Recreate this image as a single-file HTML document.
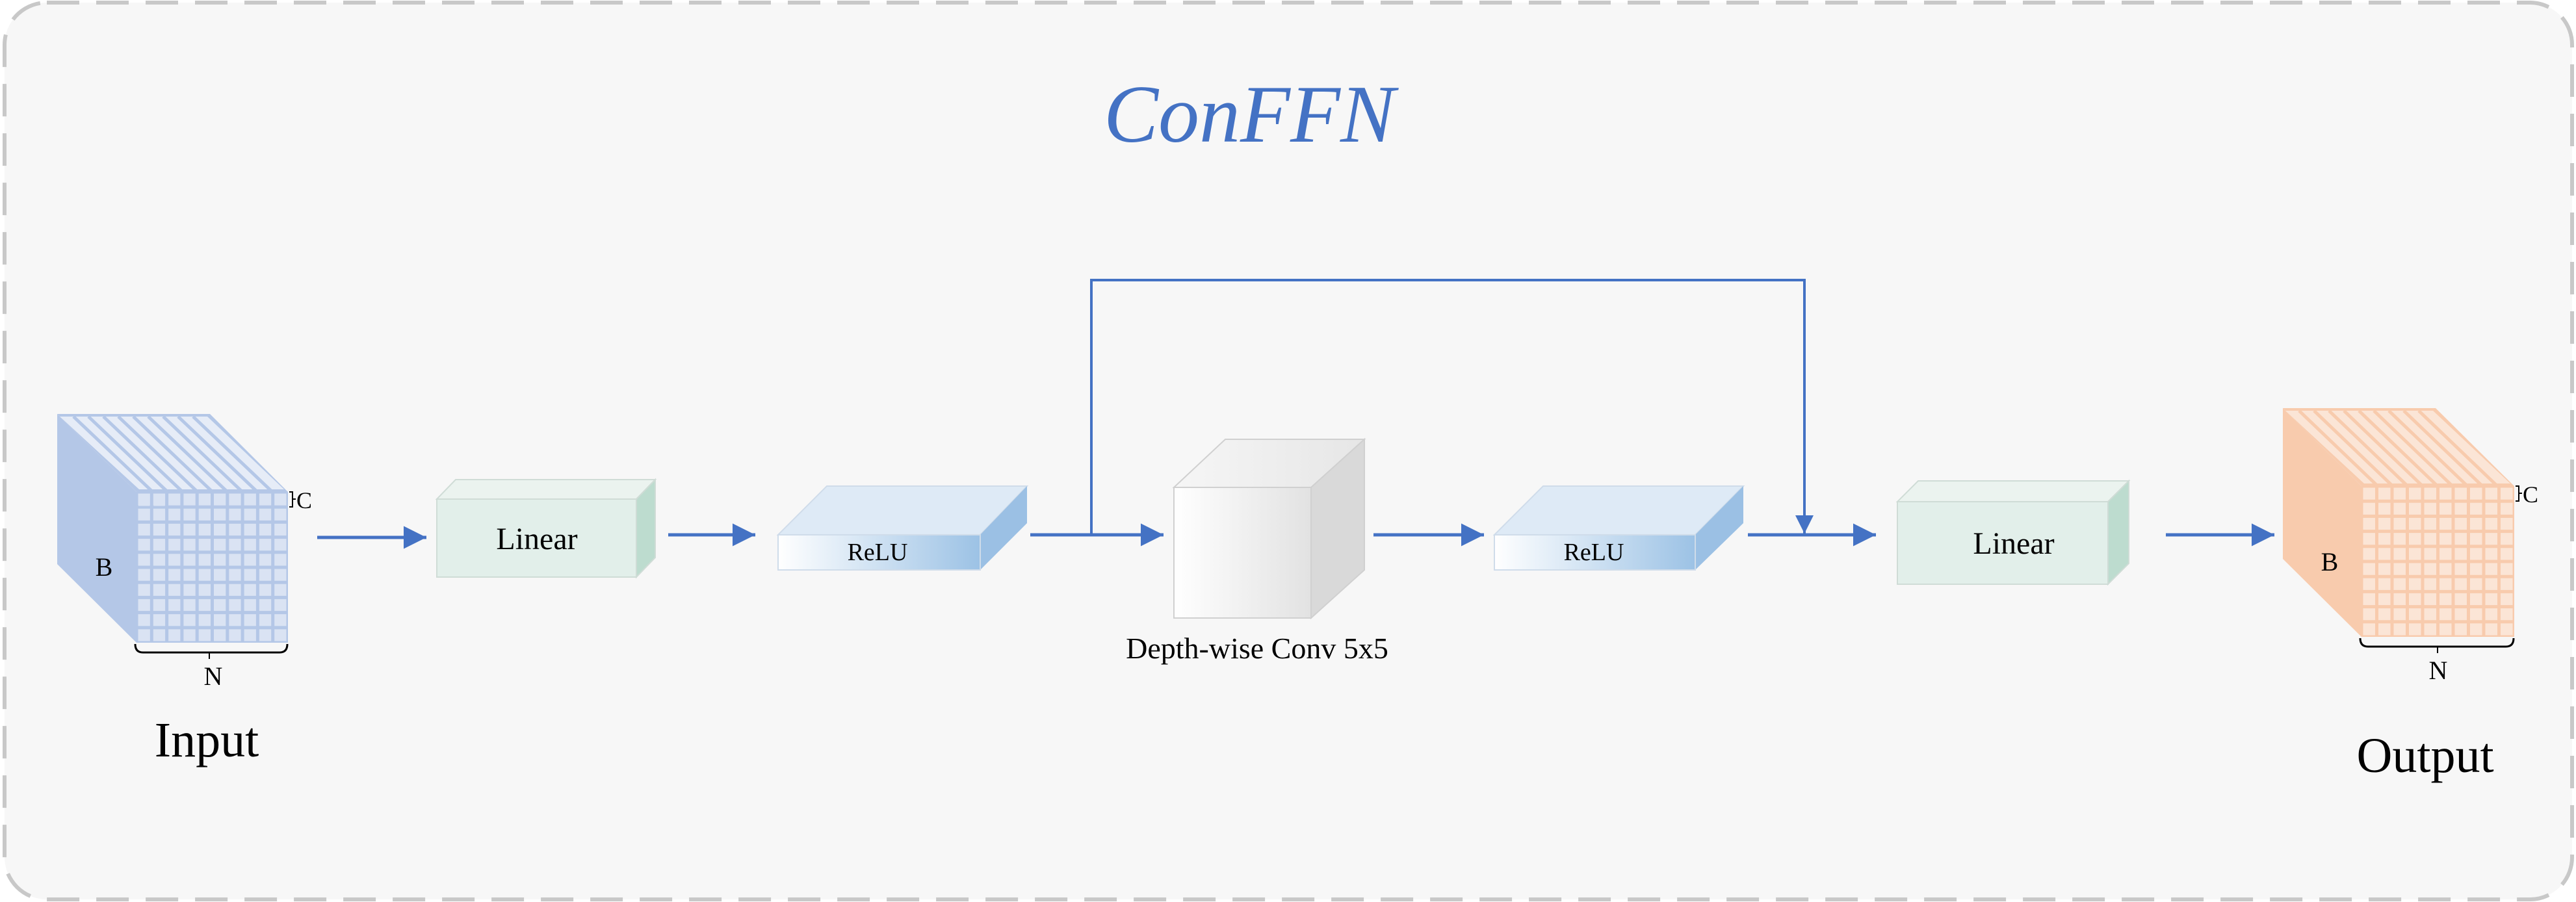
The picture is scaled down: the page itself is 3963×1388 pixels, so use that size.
<!DOCTYPE html>
<html><head><meta charset="utf-8"><style>
html,body{margin:0;padding:0;background:#fff;}
svg{display:block;}
text{font-family:"Liberation Serif",serif;fill:#000;}
</style></head><body>
<svg width="3963" height="1388" viewBox="0 0 3963 1388" xmlns="http://www.w3.org/2000/svg">
<defs>
<linearGradient id="relu" x1="0" x2="1" y1="0" y2="0"><stop offset="0" stop-color="#ffffff"/><stop offset="1" stop-color="#9cc2e5"/></linearGradient>
<linearGradient id="conv" x1="0" x2="1" y1="0" y2="0"><stop offset="0" stop-color="#ffffff"/><stop offset="1" stop-color="#e2e2e2"/></linearGradient>
<linearGradient id="convtop" x1="0" x2="1" y1="0" y2="0"><stop offset="0" stop-color="#f6f6f6"/><stop offset="1" stop-color="#e6e6e6"/></linearGradient>
<marker id="ah" viewBox="0 0 10 10" refX="10" refY="5" markerWidth="7" markerHeight="7" markerUnits="strokeWidth" orient="auto"><path d="M0,0 L10,5 L0,10 z" fill="#4472c4"/></marker>
</defs>
<rect x="0" y="0" width="3963" height="1388" fill="#ffffff"/>
<rect x="7" y="4" width="3950" height="1380" rx="65" ry="65" fill="#f7f7f7" stroke="#c8c8c8" stroke-width="6" stroke-dasharray="50 26"/>

<text x="1922" y="218" font-size="126" font-style="italic" text-anchor="middle" style="fill:#4472c4">ConFFN</text>

<!-- Input cube -->
<g>
<polygon points="88,637 210,757 210,989 88,868" fill="#b4c7e7"/>
<polygon points="88,637 323,637 443,757 210,757" fill="#b4c7e7"/>
<g id="topstripesI" stroke="#b4c7e7" stroke-width="3"></g>
<polygon points="92,641 319,641 437,753 214,753" fill="#e6ecf7"/>
<g stroke="#b4c7e7" stroke-width="5">
<line x1="113" y1="641" x2="235" y2="757"/><line x1="136" y1="641" x2="258" y2="757"/><line x1="159" y1="641" x2="281" y2="757"/><line x1="182" y1="641" x2="304" y2="757"/><line x1="205" y1="641" x2="327" y2="757"/><line x1="228" y1="641" x2="350" y2="757"/><line x1="251" y1="641" x2="373" y2="757"/><line x1="274" y1="641" x2="396" y2="757"/><line x1="297" y1="641" x2="419" y2="757"/>
</g>
<rect x="210" y="757" width="233" height="232" fill="#b4c7e7"/>
<g fill="#dae3f3">
<path d="M213,760 h17.5 v18.5 h-17.5z M236.3,760 h17.5 v18.5 h-17.5z"/>
</g>
<g fill="#dae3f3" id="gridI"></g>
</g>
<g id="cellsI">
<!-- rows generated inline -->
</g>

<!-- Output cube -->
<polygon points="3512,628 3633,748 3633,980 3512,860" fill="#f8cbad"/>
<polygon points="3512,628 3747,628 3868,748 3633,748" fill="#f8cbad"/>
<polygon points="3516,632 3743,632 3862,744 3637,744" fill="#fbe5d6"/>
<g stroke="#f8cbad" stroke-width="5">
<line x1="3537" y1="632" x2="3658" y2="748"/><line x1="3560" y1="632" x2="3681" y2="748"/><line x1="3583" y1="632" x2="3704" y2="748"/><line x1="3606" y1="632" x2="3727" y2="748"/><line x1="3629" y1="632" x2="3750" y2="748"/><line x1="3652" y1="632" x2="3773" y2="748"/><line x1="3675" y1="632" x2="3796" y2="748"/><line x1="3698" y1="632" x2="3819" y2="748"/><line x1="3721" y1="632" x2="3842" y2="748"/>
</g>
<rect x="3633" y="748" width="235" height="232" fill="#f8cbad"/>

<script>
(function(){
var ns="http://www.w3.org/2000/svg",svg=document.querySelector('svg');
function grid(x0,y0,w,h,fill){
 var cw=w/10,ch=h/10;
 for(var r=0;r<10;r++)for(var c=0;c<10;c++){
  var e=document.createElementNS(ns,'rect');
  e.setAttribute('x',x0+c*cw+2.5);e.setAttribute('y',y0+r*ch+2.5);
  e.setAttribute('width',cw-5);e.setAttribute('height',ch-5);e.setAttribute('fill',fill);
  svg.appendChild(e);
 }
}
grid(210,757,233,232,'#dae3f3');
grid(3633,748,235,232,'#fbe5d6');
})();
</script>

<!-- Input labels -->
<path d="M445,757 h5 v23 h-5" fill="none" stroke="#000" stroke-width="2"/>
<line x1="450" y1="768" x2="455" y2="768" stroke="#000" stroke-width="2"/>
<text x="456" y="782" font-size="36">C</text>
<text x="160" y="886" font-size="40" text-anchor="middle">B</text>
<path d="M208,991 q0,13 12,13 h210 q12,0 12,-13" fill="none" stroke="#000" stroke-width="3"/>
<line x1="322" y1="1004" x2="322" y2="1014" stroke="#000" stroke-width="2"/>
<text x="328" y="1054" font-size="40" text-anchor="middle">N</text>
<text x="318" y="1164" font-size="76" text-anchor="middle">Input</text>

<!-- Output labels -->
<path d="M3870,748 h5 v23 h-5" fill="none" stroke="#000" stroke-width="2"/>
<line x1="3875" y1="759" x2="3880" y2="759" stroke="#000" stroke-width="2"/>
<text x="3881" y="773" font-size="36">C</text>
<text x="3584" y="878" font-size="40" text-anchor="middle">B</text>
<path d="M3631,982 q0,13 12,13 h212 q12,0 12,-13" fill="none" stroke="#000" stroke-width="3"/>
<line x1="3750" y1="995" x2="3750" y2="1005" stroke="#000" stroke-width="2"/>
<text x="3751" y="1045" font-size="40" text-anchor="middle">N</text>
<text x="3731" y="1188" font-size="76" text-anchor="middle">Output</text>

<!-- Linear 1 -->
<polygon points="672,768 701,738 1008,738 979,768" fill="#ebf3ef" stroke="#cfdcd6" stroke-width="2"/>
<polygon points="979,768 1008,738 1008,858 979,888" fill="#bddccf" stroke="#cfdcd6" stroke-width="2"/>
<rect x="672" y="768" width="307" height="120" fill="#e2efea" stroke="#cfdcd6" stroke-width="2"/>
<text x="826" y="845" font-size="48" text-anchor="middle">Linear</text>

<!-- Linear 2 -->
<polygon points="2919,772 2951,740 3275,740 3243,772" fill="#ebf3ef" stroke="#cfdcd6" stroke-width="2"/>
<polygon points="3243,772 3275,740 3275,867 3243,899" fill="#bddccf" stroke="#cfdcd6" stroke-width="2"/>
<rect x="2919" y="772" width="324" height="127" fill="#e2efea" stroke="#cfdcd6" stroke-width="2"/>
<text x="3098" y="852" font-size="48" text-anchor="middle">Linear</text>

<!-- ReLU 1 -->
<polygon points="1197,823 1272,748 1580,748 1508,823" fill="#deeaf6" stroke="#cfdcea" stroke-width="2"/>
<polygon points="1508,823 1580,748 1580,805 1508,877" fill="#9bc0e4"/>
<rect x="1197" y="823" width="311" height="54" fill="url(#relu)" stroke="#cfdcea" stroke-width="2"/>
<text x="1350" y="862" font-size="38" text-anchor="middle">ReLU</text>

<!-- ReLU 2 -->
<polygon points="2299,823 2374,748 2682,748 2608,823" fill="#deeaf6" stroke="#cfdcea" stroke-width="2"/>
<polygon points="2608,823 2682,748 2682,805 2608,877" fill="#9bc0e4"/>
<rect x="2299" y="823" width="309" height="54" fill="url(#relu)" stroke="#cfdcea" stroke-width="2"/>
<text x="2452" y="862" font-size="38" text-anchor="middle">ReLU</text>

<!-- Conv -->
<polygon points="1806,750 1885,676 2099,676 2017,750" fill="url(#convtop)" stroke="#d0d0d0" stroke-width="2"/>
<polygon points="2017,750 2099,676 2099,877 2017,951" fill="#d9d9d9" stroke="#d0d0d0" stroke-width="2"/>
<rect x="1806" y="750" width="211" height="201" fill="url(#conv)" stroke="#d0d0d0" stroke-width="2"/>
<text x="1934" y="1013" font-size="46" text-anchor="middle">Depth-wise Conv 5x5</text>

<!-- Connectors -->
<g stroke="#4472c4" stroke-width="5" fill="none">
<line x1="488" y1="827" x2="656" y2="827" marker-end="url(#ah)"/>
<line x1="1028" y1="823" x2="1162" y2="823" marker-end="url(#ah)"/>
<line x1="1585" y1="823" x2="1790" y2="823" marker-end="url(#ah)"/>
<line x1="2113" y1="823" x2="2283" y2="823" marker-end="url(#ah)"/>
<line x1="2689" y1="823" x2="2886" y2="823" marker-end="url(#ah)"/>
<line x1="3332" y1="823" x2="3499" y2="823" marker-end="url(#ah)"/>
<polyline points="1679,823 1679,431 2776,431 2776,821" stroke-width="4" marker-end="url(#ah)"/>
</g>
</svg>
</body></html>
